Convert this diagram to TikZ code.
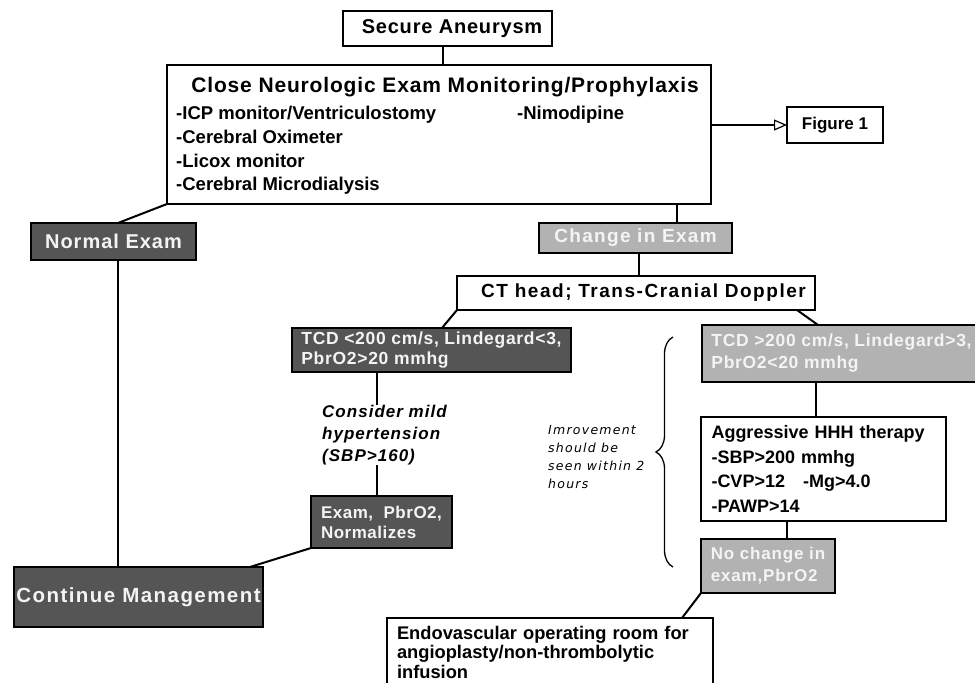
\documentclass[tikz,border=0pt]{standalone}
\usepackage{fontspec}
\setmainfont{Liberation Sans}
\newfontfamily\lsnone{Liberation Sans}
\newfontfamily\lsthree[LetterSpace=3]{Liberation Sans}
\newfontfamily\lsfour[LetterSpace=4]{Liberation Sans}
\newfontfamily\lsfive[LetterSpace=5]{Liberation Sans}
\newfontfamily\lssix[LetterSpace=6]{Liberation Sans}
\newfontfamily\lsseven[LetterSpace=7]{Liberation Sans}
\newfontfamily\lseight[LetterSpace=8]{Liberation Sans}
\newfontfamily\notefont[LetterSpace=10]{DejaVu Sans}
\usetikzlibrary{arrows.meta,decorations.pathreplacing,calc}
\definecolor{darkfill}{HTML}{555555}
\definecolor{lightfill}{HTML}{B2B2B2}
\definecolor{paletext}{HTML}{F4F4F4}

\begin{document}
\begin{tikzpicture}[x=1pt,y=-1pt,
  box/.style={draw=black, line width=1.4pt, fill=white, inner sep=0pt, outer sep=0pt},
  darkbox/.style={box, fill=darkfill, text=paletext},
  lightbox/.style={box, fill=lightfill, text=paletext},
  conn/.style={line width=2pt, black},
  itemline/.style={anchor=west, inner sep=0pt, text height=13pt, text depth=0pt,
    font=\lsnone\bfseries\fontsize{18.5}{22}\selectfont},
]
\useasboundingbox (0,0) rectangle (975,683);

% connector columns
\coordinate (colA) at (118,0);
\coordinate (colB) at (677,0);
\coordinate (colC) at (639,0);
\coordinate (colD) at (442,0);
\coordinate (colE) at (797,0);
\coordinate (colF) at (818,0);
\coordinate (colG) at (377,0);
\coordinate (colH) at (816,0);
\coordinate (colI) at (787,0);
\coordinate (colJ) at (250,0);
\coordinate (colK) at (682,0);
\coordinate (colL) at (443,0);

% boxes
\node[box, minimum width=209pt, minimum height=35pt,
      font=\lsfour\bfseries\fontsize{20}{24}\selectfont] (secure) at (447.5,28.5)
      {\hspace*{9pt}Secure Aneurysm};

\node[box, minimum width=544pt, minimum height=139pt] (close) at (439,134.5) {};
\node[inner sep=0pt, text height=14pt, text depth=0pt,
      font=\lsfour\bfseries\fontsize{21}{25}\selectfont] (closetitle) at (445,85)
      {Close Neurologic Exam Monitoring/Prophylaxis};
\node[itemline] (itemA) at (176,113) {-ICP monitor/Ventriculostomy};
\node[itemline] (itemB) at (176,137) {-Cerebral Oximeter};
\node[itemline] (itemC) at (176,161) {-Licox monitor};
\node[itemline] (itemD) at (176,184) {-Cerebral Microdialysis};
\node[itemline] (itemE) at (517,113) {-Nimodipine};

\node[box, minimum width=96pt, minimum height=36pt,
      font=\lsnone\bfseries\fontsize{17}{20}\selectfont] (fig) at (835,125) {Figure 1};

\node[darkbox, minimum width=165pt, minimum height=37pt,
      font=\lsfive\bfseries\fontsize{20}{24}\selectfont] (ne) at (113.5,241.5) {Normal Exam};

\node[darkbox, minimum width=249pt, minimum height=60pt,
      font=\lsseven\bfseries\fontsize{20.5}{24}\selectfont] (cm) at (138.5,597) {Continue Management};

\node[lightbox, minimum width=193pt, minimum height=30pt,
      font=\lsseven\bfseries\fontsize{19}{22}\selectfont] (ch) at (635.5,238) {Change in Exam};

\node[box, minimum width=358pt, minimum height=34pt,
      font=\lseight\bfseries\fontsize{19}{22}\selectfont] (ct) at (636,293)
      {\hspace*{15pt}CT head; Trans-Cranial Doppler};

\node[darkbox, minimum width=279pt, minimum height=44pt, align=left,
      font=\lsfour\bfseries\fontsize{17.5}{20}\selectfont] (tlow) at (431.5,350)
      {TCD <200 cm/s, Lindegard<3,\\PbrO2>20 mmhg};

\node[lightbox, minimum width=279pt, minimum height=57pt, align=left,
      font=\lsfour\bfseries\fontsize{17.5}{22}\selectfont] (thigh) at (841.5,353.5)
      {TCD >200 cm/s, Lindegard>3,\\PbrO2<20 mmhg};

\node[inner sep=0pt, anchor=west, align=left,
      font=\lssix\bfseries\itshape\fontsize{17}{22}\selectfont] (cons) at (322,435)
      {Consider mild\\hypertension\\(SBP>160)};

\node[darkbox, minimum width=141pt, minimum height=52pt, align=left,
      font=\lsthree\bfseries\fontsize{17}{20}\selectfont] (ex) at (381.5,522)
      {Exam,\ \ PbrO2,\\Normalizes};

\node[box, minimum width=245pt, minimum height=104pt, text width=224pt, align=left,
      font=\lsnone\bfseries\fontsize{18}{24.7}\selectfont] (ag) at (823.5,469)
      {Aggressive HHH therapy\\-SBP>200 mmhg\\-CVP>12\ \ \ -Mg>4.0\\-PAWP>14};

\node[lightbox, minimum width=134pt, minimum height=54pt, align=left,
      font=\lsfive\bfseries\fontsize{17}{22}\selectfont] (nc) at (768,566)
      {No change in\\exam,PbrO2};

% the lower part of this box runs past the bottom edge of the page
\node[box, minimum width=326pt, minimum height=68pt, text width=306pt, align=left,
      font=\lsnone\bfseries\fontsize{18.3}{19.5}\selectfont] (ev) at (550,652)
      {Endovascular operating room for\\angioplasty/non-thrombolytic\\infusion};

% note beside the brace
\node[inner sep=0pt, anchor=west, align=left,
      font=\notefont\itshape\fontsize{12.5}{17.7}\selectfont] (note) at (548,457)
      {Imrovement\\should be\\seen within 2\\hours};
\coordinate (braceBot) at (673,567);
\coordinate (braceTop) at (673,337);
\draw[line width=1.3pt, decorate, decoration={brace, amplitude=17pt}] (braceBot) -- (braceTop);

% connectors
\draw[conn] (secure.south -| colL) -- (close.north -| colL);
\draw[conn, -{Triangle[open, length=13pt, width=11pt, line width=1.2pt]}]
  (close.east |- fig.west) -- (fig.west);
\draw[conn] (close.south west) -- (ne.north -| colA);
\draw[conn] (ne.south -| colA) -- (cm.north -| colA);
\draw[conn] (close.south -| colB) -- (ch.north -| colB);
\draw[conn] (ch.south -| colC) -- (ct.north -| colC);
\draw[conn] (ct.south west) -- (tlow.north -| colD);
\draw[conn] (ct.south -| colE) -- (thigh.north -| colF);
\draw[conn] (tlow.south -| colG) -- (cons.north -| colG);
\draw[conn] (cons.south -| colG) -- (ex.north -| colG);
\draw[conn] (ex.south west) -- (cm.north -| colJ);
\draw[conn] (thigh.south -| colH) -- (ag.north -| colH);
\draw[conn] (ag.south -| colI) -- (nc.north -| colI);
\draw[conn] (nc.south west) -- (ev.north -| colK);
\end{tikzpicture}
\end{document}
